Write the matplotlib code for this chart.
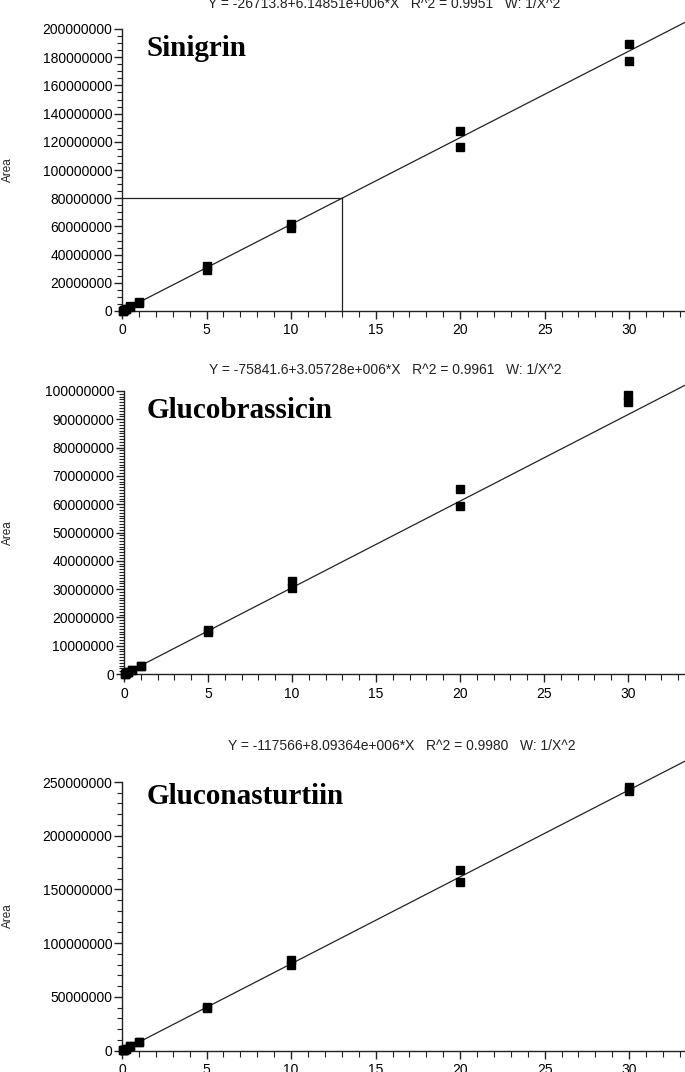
import matplotlib
matplotlib.use("Agg")
import matplotlib.pyplot as plt
from matplotlib.ticker import MultipleLocator, FuncFormatter
import numpy as np

# ---- data ----
conc = [0.05, 0.05, 0.1, 0.1, 0.25, 0.25, 0.5, 0.5, 1, 1, 5, 5, 10, 10, 20, 20, 30, 30]

sinigrin_area = [0.3e6, 0.3e6, 0.6e6, 0.6e6, 1.5e6, 1.5e6, 2.8e6, 3.2e6, 5.8e6, 6.4e6,
                 29.2e6, 31.9e6, 59.0e6, 61.8e6, 116.5e6, 127.5e6, 177.0e6, 189.5e6]
glucobrassicin_area = [0.15e6, 0.15e6, 0.3e6, 0.3e6, 0.75e6, 0.75e6, 1.5e6, 1.5e6, 2.8e6, 3.0e6,
                       15.0e6, 15.6e6, 30.4e6, 32.9e6, 59.5e6, 65.2e6, 96.0e6, 98.6e6]
gluconasturtiin_area = [0.4e6, 0.4e6, 0.8e6, 0.8e6, 2.0e6, 2.0e6, 4.0e6, 4.3e6, 8.0e6, 8.5e6,
                        39.5e6, 40.5e6, 79.5e6, 84.5e6, 156.7e6, 167.9e6, 241.6e6, 245.3e6]

names = ["Sinigrin", "Glucobrassicin", "Gluconasturtiin"]
intercepts = [-26713.8, -75841.6, -117566]
slopes = [6.14851e6, 3.05728e6, 8.09364e6]
equations = ["Y = -26713.8+6.14851e+006*X   R^2 = 0.9951   W: 1/X^2",
             "Y = -75841.6+3.05728e+006*X   R^2 = 0.9961   W: 1/X^2",
             "Y = -117566+8.09364e+006*X   R^2 = 0.9980   W: 1/X^2"]
y_max = [200e6, 100e6, 250e6]
y_major = [20e6, 10e6, 50e6]
y_minor = [5e6, 1e6, 10e6]
readout_area = 80e6  # sinigrin interpolation guide

areas = [sinigrin_area, glucobrassicin_area, gluconasturtiin_area]

W, H = 685, 1072
fig = plt.figure(figsize=(W / 100, H / 100), dpi=100)
fig.patch.set_facecolor("white")

# layout (pixel based)
layout = [
    dict(left=122, bottom=311, top=29, xmax=33.3, title_y=4, name_y=49, eq_x=384, area_y=170),
    dict(left=124, bottom=674, top=391, xmax=33.4, title_y=370, name_y=411, eq_x=385, area_y=533),
    dict(left=122, bottom=1050.7, top=782, xmax=33.3, title_y=746, name_y=797, eq_x=402, area_y=916),
]

sans = ["Liberation Sans", "DejaVu Sans"]
serif = ["Liberation Serif", "DejaVu Serif"]

for i in range(3):
    L = layout[i]
    ax = fig.add_axes([L["left"] / W, 1 - L["bottom"] / H,
                       (W - L["left"]) / W, (L["bottom"] - L["top"]) / H])
    ax.set_xlim(0, L["xmax"])
    ax.set_ylim(0, y_max[i])
    for s in ["top", "right"]:
        ax.spines[s].set_visible(False)
    for s in ["left", "bottom"]:
        ax.spines[s].set_linewidth(1.0)
        ax.spines[s].set_color("#222222")

    # fit line
    xs = np.array([0, L["xmax"]])
    ax.plot(xs, intercepts[i] + slopes[i] * xs, color="#222222", lw=0.9, zorder=2,
            clip_on=False)
    # data
    ax.plot(conc, areas[i], linestyle="none", marker="s", ms=6.4, color="black",
            clip_on=False, zorder=3)

    if i == 0:
        xr = (readout_area - intercepts[i]) / slopes[i]
        ax.plot([0, xr], [readout_area, readout_area], color="#222222", lw=0.9)
        ax.plot([xr, xr], [0, readout_area], color="#222222", lw=0.9)

    ax.xaxis.set_major_locator(MultipleLocator(5))
    ax.xaxis.set_minor_locator(MultipleLocator(1))
    ax.yaxis.set_major_locator(MultipleLocator(y_major[i]))
    ax.yaxis.set_minor_locator(MultipleLocator(y_minor[i]))
    ax.yaxis.set_major_formatter(FuncFormatter(lambda v, p: "%d" % round(v)))
    ax.xaxis.set_major_formatter(FuncFormatter(lambda v, p: "%d" % round(v)))
    ax.tick_params(axis="y", which="major", length=6, width=1.0, pad=1, labelsize=10,
                   direction="out", colors="#222222")
    ax.tick_params(axis="y", which="minor", length=3.5, width=0.8, direction="out",
                   colors="#222222")
    ax.tick_params(axis="x", which="major", length=6, width=1.0, pad=3, labelsize=10,
                   direction="out", colors="#222222")
    ax.tick_params(axis="x", which="minor", length=4, width=0.8, direction="out",
                   colors="#222222")
    for lab in ax.get_xticklabels() + ax.get_yticklabels():
        lab.set_family(sans)
        lab.set_color("black")

    fig.text(L["eq_x"] / W, 1 - L["title_y"] / H, equations[i], ha="center", va="center",
             fontsize=10, family=sans, color="#222222")
    fig.text(147 / W, 1 - L["name_y"] / H, names[i], ha="left", va="center",
             fontsize=21, fontweight="bold", family=serif, color="black")
    fig.text(8 / W, 1 - L["area_y"] / H, "Area", ha="center", va="center", rotation=90,
             fontsize=8.5, family=sans, color="#222222")

fig.savefig("out.png", dpi=100, facecolor="white")
